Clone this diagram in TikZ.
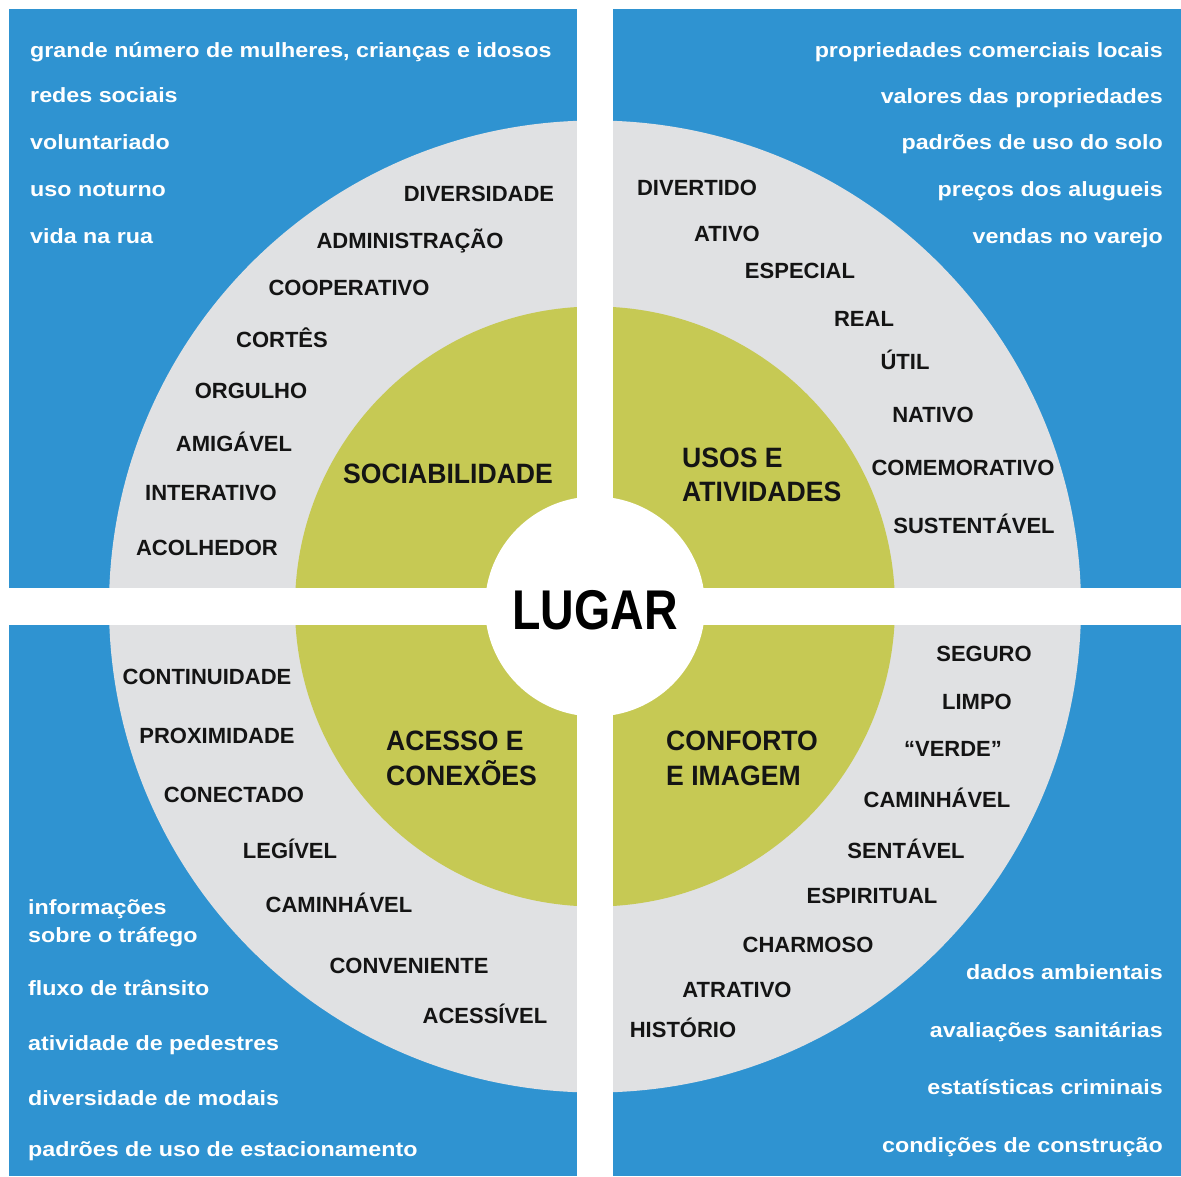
\documentclass[tikz,border=0pt]{standalone}
\usepackage{fontspec}
\setmainfont{Liberation Sans}
\newfontfamily\datafam{Liberation Sans}[FakeStretch=1.13]
\newfontfamily\themefam{Liberation Sans}[FakeStretch=0.95]
\newfontfamily\placefam{Liberation Sans}[FakeStretch=0.83]

\definecolor{panelblue}{RGB}{47,147,209}
\definecolor{ringgray}{RGB}{224,225,227}
\definecolor{coregreen}{RGB}{198,201,84}
\definecolor{inkblack}{RGB}{20,20,20}

\begin{document}
\begin{tikzpicture}[x=1pt,y=-1pt,
  datum/.style={text=white, inner sep=0pt,
    font=\datafam\bfseries\fontsize{20.6}{25}\selectfont},
  quality/.style={text=inkblack, inner sep=0pt, anchor=base,
    font=\bfseries\fontsize{22}{26}\selectfont},
  theme/.style={text=inkblack, inner sep=0pt, anchor=base west,
    font=\themefam\bfseries\fontsize{28}{34}\selectfont},
]
\useasboundingbox (0,0) rectangle (1181,1176);
\fill[white] (0,0) rectangle (1181,1176);

% four quadrant panels
\fill[panelblue] (9,9) rectangle (577,588);
\fill[panelblue] (613,9) rectangle (1181,588);
\fill[panelblue] (9,625) rectangle (577,1176);
\fill[panelblue] (613,625) rectangle (1181,1176);

% concentric rings
\coordinate (c) at (595,606.5);
\fill[ringgray] (c) circle[radius=486];
\fill[coregreen] (c) circle[radius=300];

% white cross separating the quadrants
\fill[white] (577,0) rectangle (613,1176);
\fill[white] (0,588) rectangle (1181,625);
\fill[white] (c) circle[radius=110];

% centre
\node[inner sep=0pt, anchor=base, text=black,
  font=\placefam\bfseries\fontsize{56}{60}\selectfont] (lugar) at (595,629) {LUGAR};

% themes
\node[theme, anchor=base] (soc) at (448,483) {SOCIABILIDADE};
\node[theme] (uso1) at (682,467) {USOS E};
\node[theme] (uso2) at (682,501) {ATIVIDADES};
\node[theme] (ace1) at (386,750) {ACESSO E};
\node[theme] (ace2) at (386,785) {CONEXÕES};
\node[theme] (con1) at (666,750) {CONFORTO};
\node[theme] (con2) at (666,785) {E IMAGEM};

% sociability attributes
\node[quality] (q1) at (479,201) {DIVERSIDADE};
\node[quality] (q2) at (410,248) {ADMINISTRAÇÃO};
\node[quality] (q3) at (349,295) {COOPERATIVO};
\node[quality] (q4) at (282,347) {CORTÊS};
\node[quality] (q5) at (251,398) {ORGULHO};
\node[quality] (q6) at (234,451) {AMIGÁVEL};
\node[quality] (q7) at (211,500) {INTERATIVO};
\node[quality] (q8) at (207,555) {ACOLHEDOR};

% uses and activities attributes
\node[quality] (u1) at (697,195) {DIVERTIDO};
\node[quality] (u2) at (727,241) {ATIVO};
\node[quality] (u3) at (800,278) {ESPECIAL};
\node[quality] (u4) at (864,326) {REAL};
\node[quality] (u5) at (905,369) {ÚTIL};
\node[quality] (u6) at (933,422) {NATIVO};
\node[quality] (u7) at (963,475) {COMEMORATIVO};
\node[quality] (u8) at (974,533) {SUSTENTÁVEL};

% access and linkage attributes
\node[quality] (a1) at (207,684) {CONTINUIDADE};
\node[quality] (a2) at (217,743) {PROXIMIDADE};
\node[quality] (a3) at (234,802) {CONECTADO};
\node[quality] (a4) at (290,858) {LEGÍVEL};
\node[quality] (a5) at (339,912) {CAMINHÁVEL};
\node[quality] (a6) at (409,973) {CONVENIENTE};
\node[quality] (a7) at (485,1023) {ACESSÍVEL};

% comfort and image attributes
\node[quality] (k1) at (984,661) {SEGURO};
\node[quality] (k2) at (977,709) {LIMPO};
\node[quality] (k3) at (953,756) {“VERDE”};
\node[quality] (k4) at (937,807) {CAMINHÁVEL};
\node[quality] (k5) at (906,858) {SENTÁVEL};
\node[quality] (k6) at (872,903) {ESPIRITUAL};
\node[quality] (k7) at (808,952) {CHARMOSO};
\node[quality] (k8) at (737,997) {ATRATIVO};
\node[quality] (k9) at (683,1037) {HISTÓRIO};

% measurements, top left
\node[datum, anchor=base west] (m1) at (30,57) {grande número de mulheres, crianças e idosos};
\node[datum, anchor=base west] (m2) at (30,102) {redes sociais};
\node[datum, anchor=base west] (m3) at (30,149) {voluntariado};
\node[datum, anchor=base west] (m4) at (30,196) {uso noturno};
\node[datum, anchor=base west] (m5) at (30,243) {vida na rua};

% measurements, top right
\node[datum, anchor=base east] (n1) at (1163,57) {propriedades comerciais locais};
\node[datum, anchor=base east] (n2) at (1163,103) {valores das propriedades};
\node[datum, anchor=base east] (n3) at (1163,149) {padrões de uso do solo};
\node[datum, anchor=base east] (n4) at (1163,196) {preços dos alugueis};
\node[datum, anchor=base east] (n5) at (1163,243) {vendas no varejo};

% measurements, bottom left
\node[datum, anchor=base west] (p1) at (28,914) {informações};
\node[datum, anchor=base west] (p2) at (28,942) {sobre o tráfego};
\node[datum, anchor=base west] (p3) at (28,995) {fluxo de trânsito};
\node[datum, anchor=base west] (p4) at (28,1050) {atividade de pedestres};
\node[datum, anchor=base west] (p5) at (28,1105) {diversidade de modais};
\node[datum, anchor=base west] (p6) at (28,1156) {padrões de uso de estacionamento};

% measurements, bottom right
\node[datum, anchor=base east] (r1) at (1163,979) {dados ambientais};
\node[datum, anchor=base east] (r2) at (1163,1037) {avaliações sanitárias};
\node[datum, anchor=base east] (r3) at (1163,1094) {estatísticas criminais};
\node[datum, anchor=base east] (r4) at (1163,1152) {condições de construção};
\end{tikzpicture}
\end{document}
